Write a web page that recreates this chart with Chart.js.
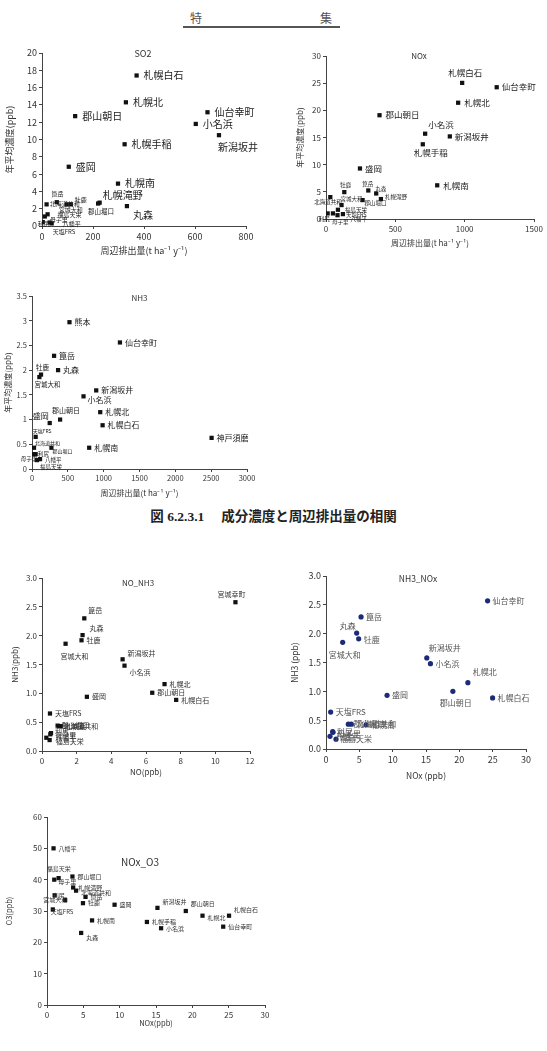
<!DOCTYPE html>
<html><head><meta charset="utf-8">
<script src="https://cdn.jsdelivr.net/npm/chart.js@4.4.1/dist/chart.umd.min.js"></script>
<style>
html,body{margin:0;padding:0;background:#fff;}
body{width:547px;height:1051px;position:relative;overflow:hidden;font-family:"Noto Sans CJK JP",sans-serif;}
canvas{position:absolute;}
.hd{position:absolute;top:9px;font-family:"Noto Sans CJK JP";font-size:12px;color:#555;}
#line{position:absolute;left:183px;top:26px;width:157px;height:2px;background:#555;}
#cap{position:absolute;left:0;width:547px;top:505px;text-align:center;font-family:"Liberation Serif","Noto Sans CJK JP";font-weight:bold;font-size:13.5px;color:#222;white-space:pre;}
</style></head><body>
<div class="hd" style="left:190px">特</div>
<div class="hd" style="left:320px">集</div>
<div id="line"></div>
<div id="cap">図 6.2.3.1　 成分濃度と周辺排出量の相関</div>
<canvas id="cSO2"></canvas>
<canvas id="cNOx"></canvas>
<canvas id="cNH3"></canvas>
<canvas id="cNO"></canvas>
<canvas id="cNN"></canvas>
<canvas id="cO3"></canvas>
<script>
// ---------- DATA ----------
// SO2: emission (t ha-1 y-1) vs annual mean concentration (ppb)
const so2Names = ['札幌白石','札幌北','郡山朝日','仙台幸町','小名浜','新潟坂井','札幌手稲','盛岡','札幌南','札幌滝野','郡山堀口','丸森','箟岳','北海道共和','宮城大和','牡鹿','母子里','福島天栄','利尻','八幡平','天塩FRS'];
const so2Emis  = [371,329,130,649,603,694,324,105,298,226,220,333,18,58,97,113,11,22,3,38,30];
const so2Conc  = [17.4,14.3,12.7,13.15,11.8,10.5,9.45,6.85,4.9,2.7,2.6,2.3,2.5,2.75,2.5,2.5,1.1,1.35,0.45,0.3,0.4];

// NOx
const noxNames = ['札幌白石','仙台幸町','札幌北','郡山朝日','小名浜','新潟坂井','札幌手稲','盛岡','札幌南','箟岳','丸森','札幌滝野','郡山堀口','牡鹿','北海道共和','宮城大和','福島天栄','天塩FRS','母子里','八幡平','利尻'];
const noxEmis  = [982,1231,953,386,715,893,698,245,802,305,362,396,264,132,31,112,86,122,50,83,12];
const noxConc  = [25.05,24.25,21.4,19.1,15.7,15.2,13.75,9.3,6.2,5.25,4.7,3.67,3.48,4.95,4.03,2.57,1.7,0.9,1.03,0.7,1.03];

// NH3
const nh3Names = ['熊本','仙台幸町','箟岳','丸森','牡鹿','宮城大和','新潟坂井','小名浜','札幌北','札幌白石','郡山朝日','盛岡','神戸須磨','札幌南','天塩FRS','北海道共和','郡山堀口','利尻','母子里','八幡平','福島天栄'];
const nh3Emis  = [523,1227,308,364,126,103,896,719,952,985,392,247,2506,798,51,28,271,14,51,112,70];
const nh3Conc  = [2.97,2.56,2.29,2.0,1.91,1.86,1.59,1.47,1.15,0.885,1.0,0.93,0.63,0.43,0.65,0.43,0.43,0.3,0.3,0.2,0.18];

// NO vs NH3
const noNames = ['宮城幸町','箟岳','丸森','牡鹿','宮城大和','新潟坂井','小名浜','札幌北','郡山朝日','札幌白石','盛岡','天塩FRS','郡山堀口','札幌南','北海道共和','利尻','母子里','八幡平','福島天栄'];
const noNO    = [11.16,2.44,2.34,2.28,1.36,4.65,4.76,7.07,6.36,7.74,2.59,0.46,0.9,1.1,1.0,0.52,0.48,0.25,0.44];
const noNH3   = [2.58,2.30,2.01,1.92,1.86,1.59,1.48,1.16,1.01,0.886,0.94,0.65,0.44,0.43,0.43,0.31,0.29,0.23,0.19];

// NOx vs NH3
const nnNames = ['仙台幸町','箟岳','丸森','牡鹿','宮城大和','新潟坂井','小名浜','札幌北','郡山朝日','札幌白石','盛岡','天塩FRS','郡山堀口','北海道共和','札幌南','利尻','母子里','八幡平','福島天栄'];
const nnNOx   = [24.24,5.26,4.6,4.9,2.5,15.12,15.67,21.28,19.03,24.99,9.16,0.7,3.35,3.8,6.0,1.0,1.05,0.6,1.5];
const nnNH3   = [2.57,2.29,2.01,1.91,1.85,1.58,1.48,1.15,1.0,0.886,0.93,0.64,0.43,0.43,0.42,0.3,0.29,0.22,0.17];

// NOx vs O3
const o3Names = ['八幡平','福島天栄','母子里','郡山堀口','札幌滝野','北海道共和','利尻','箟岳','宮城大和','牡鹿','天塩FRS','盛岡','新潟坂井','郡山朝日','札幌白石','札幌南','札幌手稲','札幌北','小名浜','仙台幸町','丸森'];
const o3NOx   = [0.9,1.6,1.0,3.5,3.6,4.0,1.05,5.3,2.5,4.95,0.8,9.3,15.2,19.1,25.05,6.2,13.75,21.4,15.7,24.25,4.7];
const o3O3    = [50,40.5,40,41,37.5,36.5,35,34.5,33.5,32.5,30.5,32,31,30,28.5,27,26.5,28.5,24.5,25,23];

// ---------- LABEL PLACEMENT (style only: [dx, dy, fontSize]) ----------
const so2Lab = [[7,0,10],[7,0,10],[7,0,10],[7,0,10],[7,0,10],[-1,12,10],[7,0,10],[7,0,10],[7,0,10],[3,-7,10],[-10,8,6.5],[6,9,10],
  [5,-11,6],[-7,2,6],[-8,5,6],[4,-5,6],[5,3,6],[10,0,6],[-5,2,6],[11,0,6],[3,9,6]];
const noxLab = [[-14,-10,8.5],[5,0,8.5],[6,0,8.5],[6,0,8.5],[3,-9,8.5],[5,0,8.5],[-9,8,8.5],[5,0,8.5],[6,0,8.5],
  [-6,-7,5.5],[-1,-5,5.5],[4,-2,5.5],[2,3,5.5],[-4,-7,5.5],[-16,5,5.5],[-1,-6,5.5],[7,0,5.5],[3,1,5.5],[-1,9,5.5],[13,4,5.5],[-9,6,5.5]];
const nh3Lab = [[5,0,8],[5,0,8],[5,0,8],[5,0,8],[-5,-7,6.5],[-5,7,6.5],[5,0,8],[4,4,8],[5,0,8],[5,0,8],[-8,-9,7],[-17,-7,8],[5,0,8],[5,0,8],
  [-3,-6,5],[1,-5,5],[1,3.5,5],[5,0,5.5],[-15,5,5.5],[5,1,5.5],[3,7,5.5]];
const noLab  = [[-18,-8,7],[4,-8,7],[7,-7,7],[5,0,7],[-5,13,7],[5,-6,7],[5,7,7],[5,0,7],[5,0,7],[5,0,7],[5,0,7],[5,0,7],
  [4,0,7],[4,0,7],[4,0,7],[4,-2,7],[5,1,7],[9,0,7],[6,1,7]];
const nnLab  = [[5,0,8],[5,0,8],[-17,-7,8],[5,1,8],[-14,13,8],[2,-10,8],[5,0,8],[5,-11,8],[-13,12,8],[5,0,8],[5,0,8],[5,0,8],
  [5,0,8],[5,0,8],[5,0,8],[4,0,8],[4,2,8],[5,1,8],[4,0,8]];
const o3Lab  = [[5,0,6],[-12,-9,6],[4,2,6],[5,0,6],[5,0,6],[5,2,6],[-2,0,6],[5,0,6],[-22,0,6],[5,0,6],[-2,2,6],[5,0,6],[5,-6,6],[5,-7,6],[5,-6,6],[5,0,6],[5,0,6],[5,2,6],[5,0,6],[5,0,6],[5,5,6]];

Chart.defaults.font.family = '"Noto Sans CJK JP", sans-serif';

const labelPlugin = {
  id:'ptLabels',
  afterDatasetsDraw(chart, args, opts){
    const ctx = chart.ctx; const meta = chart.getDatasetMeta(0);
    ctx.save(); ctx.fillStyle = opts.color; ctx.textAlign='left'; ctx.textBaseline='middle';
    meta.data.forEach((el,i)=>{
      const s = opts.lab[i]; if(!s) return;
      ctx.font = s[2]+'px '+opts.family;
      ctx.fillText(opts.names[i], el.x + s[0], el.y + s[1]);
    });
    ctx.restore();
  }
};
const titlePlugin = {
  id:'inTitle',
  afterDraw(chart, args, o){
    const ctx=chart.ctx; ctx.save(); ctx.fillStyle='#333'; ctx.textAlign='center'; ctx.textBaseline='middle';
    ctx.font = o.size+'px "Noto Sans CJK JP", sans-serif';
    ctx.fillText(o.text, o.x, o.y); ctx.restore();
  }
};

function build(id, names, xs, ys, lab, o){
  const cv = document.getElementById(id);
  cv.width=o.box[2]; cv.height=o.box[3];
  cv.style.left=o.box[0]+'px'; cv.style.top=o.box[1]+'px';
  const pts = xs.map((x,i)=>({x:x, y:ys[i]}));
  const axis = (r, fs, fmt, title, tfs, tpad) => ({
    type:'linear', min:r[0], max:r[1], bounds:'ticks',
    ticks:{stepSize:r[2], font:{size:fs}, color:'#333', padding:2, autoSkip:false, maxRotation:0, callback:fmt},
    grid:{drawOnChartArea:false, drawTicks:true, tickLength:3, color:'#444'},
    border:{display:true, color:'#444', width:1},
    title:{display:true, text:title, font:{size:tfs}, color:'#333', padding:tpad}
  });
  const xa = axis(o.xr, o.tick, o.xf, o.xt, o.tfs, {top:0,bottom:o.xtp});
  xa.afterFit = s => { s.height = o.hx; };
  const ya = axis(o.yr, o.tick, o.yf, o.yt, o.tfs, {top:o.ytp,bottom:0});
  ya.afterFit = s => { s.width = o.wy; };
  new Chart(cv, {
    type:'scatter',
    data:{datasets:[{data:pts, pointStyle:o.shape, pointRadius:o.r, pointHoverRadius:o.r, backgroundColor:o.color, borderColor:o.color, borderWidth:0}]},
    options:{responsive:false, animation:false, devicePixelRatio:1,
      layout:{padding:{left:o.pad[0], top:o.pad[1], right:o.pad[2], bottom:o.pad[3]}},
      plugins:{legend:{display:false}, tooltip:{enabled:false},
        ptLabels:{names:names, lab:lab, color:o.lc, family:'"Noto Sans CJK JP", sans-serif'},
        inTitle:{text:o.title, x:o.tx, y:o.ty, size:o.ts}},
      scales:{x:xa, y:ya}
    },
    plugins:[labelPlugin, titlePlugin]
  });
}
const plain = v => String(v);
const one = v => v.toFixed(1);
const emT = '周辺排出量(t ha⁻¹ y⁻¹)';

build('cSO2', so2Names, so2Emis, so2Conc, so2Lab, {box:[0,40,270,220], pad:[2,13,24,4], wy:40, hx:30,
  xr:[0,800,200], yr:[0,20,2], tick:9, xf:plain, yf:plain, xt:emT, yt:'年平均濃度(ppb)', tfs:9, xtp:0, ytp:2,
  shape:'rect', r:3, color:'#111', lc:'#222', title:'SO2', tx:143, ty:14, ts:9});

build('cNOx', noxNames, noxEmis, noxConc, noxLab, {box:[280,40,267,215], pad:[6,16,13,7], wy:40, hx:29,
  xr:[0,1500,500], yr:[0,30,5], tick:8, xf:plain, yf:plain, xt:emT, yt:'年平均濃度(ppb)', tfs:8, xtp:0, ytp:9,
  shape:'rect', r:3, color:'#111', lc:'#222', title:'NOx', tx:139, ty:16, ts:8});

build('cNH3', nh3Names, nh3Emis, nh3Conc, nh3Lab, {box:[0,280,270,220], pad:[2,16,23,2], wy:30, hx:29,
  xr:[0,3000,500], yr:[0,3.5,0.5], tick:7.5, xf:plain, yf:plain, xt:emT, yt:'年平均濃度(ppb)', tfs:8, xtp:0, ytp:1,
  shape:'rect', r:3, color:'#111', lc:'#222', title:'NH3', tx:139.5, ty:18, ts:8});

build('cNO', noNames, noNO, noNH3, noLab, {box:[0,560,280,230], pad:[4,18,30,13], wy:38, hx:26,
  xr:[0,12,2], yr:[0,3,0.5], tick:8, xf:plain, yf:one, xt:'NO(ppb)', yt:'NH3(ppb)', tfs:8, xtp:0, ytp:6,
  shape:'rect', r:3, color:'#111', lc:'#333', title:'NO_NH3', tx:138, ty:23, ts:8});

build('cNN', nnNames, nnNOx, nnNH3, nnLab, {box:[280,560,267,230], pad:[6,16,21,9], wy:40, hx:32,
  xr:[0,30,5], yr:[0,3,0.5], tick:9, xf:plain, yf:one, xt:'NOx (ppb)', yt:'NH3 (ppb)', tfs:8.5, xtp:0, ytp:4,
  shape:'circle', r:2.6, color:'#1c2a78', lc:'#555', title:'NH3_NOx', tx:138, ty:19, ts:8.5});

build('cO3', o3Names, o3NOx, o3O3, o3Lab, {box:[0,805,280,240], pad:[5,12,15,17], wy:42, hx:23,
  xr:[0,30,5], yr:[0,60,10], tick:8, xf:plain, yf:plain, xt:'NOx(ppb)', yt:'O3(ppb)', tfs:7.5, xtp:0, ytp:0,
  shape:'rect', r:3, color:'#111', lc:'#333', title:'NOx_O3', tx:140, ty:57, ts:10});
</script>
</body></html>
